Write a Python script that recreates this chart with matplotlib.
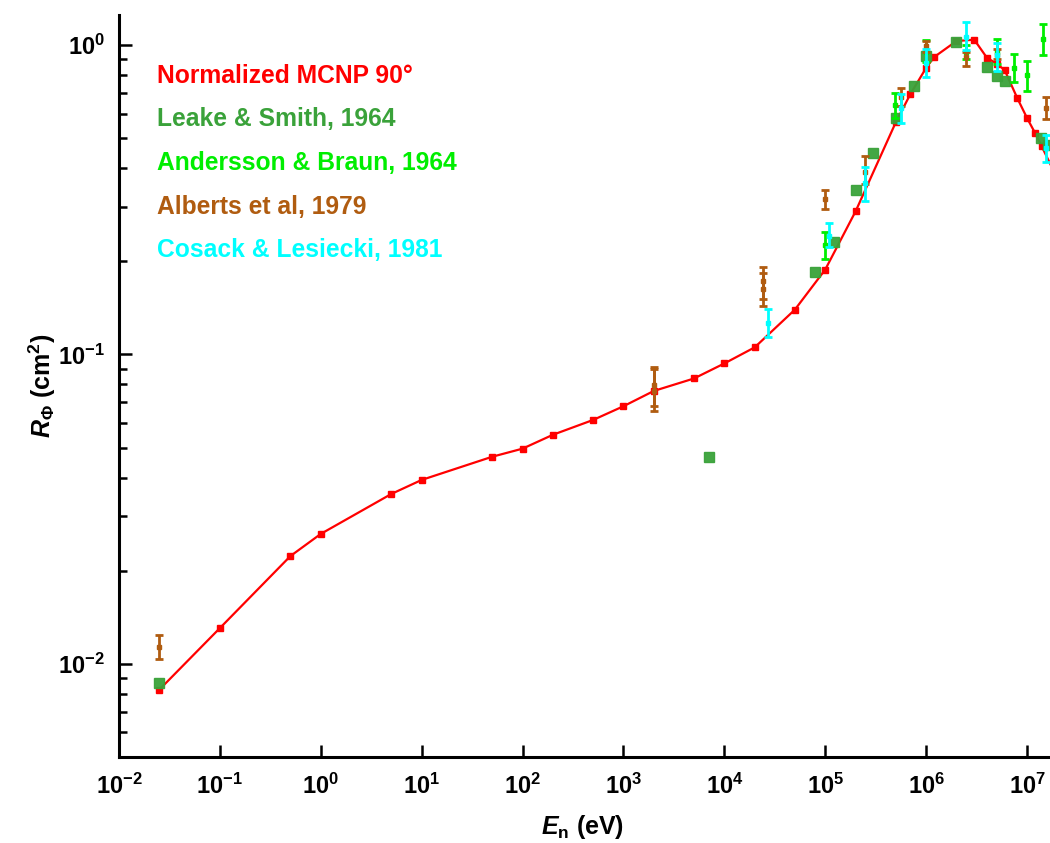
import numpy as np
import matplotlib
matplotlib.use('Agg')
import matplotlib.pyplot as plt
from matplotlib.ticker import FixedLocator, FuncFormatter, NullLocator, NullFormatter

plt.rcParams['font.family'] = ['Liberation Sans', 'DejaVu Sans']
plt.rcParams['font.weight'] = 'bold'
plt.rcParams['mathtext.fontset'] = 'custom'
plt.rcParams['mathtext.rm'] = 'Liberation Sans:bold'
plt.rcParams['mathtext.bf'] = 'Liberation Sans:bold'
plt.rcParams['mathtext.it'] = 'Liberation Sans:bold:italic'

# Normalized MCNP 90 deg (line)
mcnp_e = [0.025, 0.1, 0.5, 1, 5, 10, 50, 100, 200, 500, 1e3, 2e3, 5e3, 1e4, 2e4, 5e4,
          1e5, 2e5, 5e5, 7e5, 1e6, 1.2e6, 2e6, 3e6, 4e6, 5e6, 6e6, 8e6, 1e7, 1.2e7, 1.4e7, 2e7]
mcnp_r = [0.00824, 0.01305, 0.0223, 0.0263, 0.0354, 0.0393, 0.0467, 0.0496, 0.055, 0.0614,
          0.068, 0.0762, 0.0836, 0.0935, 0.1054, 0.1395, 0.188, 0.29, 0.562, 0.695, 0.843,
          0.914, 1.03, 1.04, 0.91, 0.87, 0.83, 0.674, 0.581, 0.52, 0.47, 0.37]

# Leake & Smith, 1964
leake_e = [0.025, 7000, 8e4, 1.22e5, 2e5, 3e5, 5e5, 7.5e5, 1e6, 2e6, 4e6, 5e6, 6e6, 1.37e7, 1.6e7]
leake_r = [0.00869, 0.0467, 0.185, 0.23, 0.341, 0.448, 0.581, 0.737, 0.92, 1.02, 0.85,
           0.794, 0.765, 0.50, 0.475]

# Andersson & Braun, 1964
andersson_e = [1e5, 4.9e5, 1e6, 2.5e6, 5e6, 7.5e6, 1e7, 1.45e7]
andersson_r = [0.226, 0.64, 0.95, 0.95, 0.95, 0.843, 0.80, 1.045]
andersson_lo = [0.203, 0.58, 0.88, 0.90, 0.87, 0.76, 0.71, 0.93]
andersson_hi = [0.249, 0.70, 1.04, 1.0, 1.045, 0.935, 0.887, 1.17]

# Alberts et al, 1979
alberts_e = [0.025, 2000, 2000, 2.4e4, 2.4e4, 1e5, 2.5e5, 5.7e5, 1e6, 2.5e6, 5e6, 1.55e7]
alberts_r = [0.01135, 0.0794, 0.0762, 0.173, 0.163, 0.317, 0.39, 0.68, 0.99, 0.915, 0.93, 0.626]
alberts_lo = [0.0104, 0.0683, 0.0655, 0.151, 0.143, 0.295, 0.355, 0.635, 0.95, 0.857, 0.90, 0.576]
alberts_hi = [0.0124, 0.0914, 0.0894, 0.192, 0.183, 0.339, 0.438, 0.728, 1.03, 0.951, 0.97, 0.68]

# Cosack & Lesiecki, 1981
cosack_e = [2.7e4, 1.1e5, 2.5e5, 5.7e5, 1e6, 2.5e6, 5e6, 1.54e7]
cosack_r = [0.126, 0.242, 0.358, 0.626, 0.875, 1.06, 0.93, 0.465]
cosack_lo = [0.1135, 0.222, 0.313, 0.56, 0.789, 0.963, 0.824, 0.42]
cosack_hi = [0.14, 0.265, 0.403, 0.695, 0.97, 1.19, 1.015, 0.51]

x_ticks = [1e-2, 1e-1, 1e0, 1e1, 1e2, 1e3, 1e4, 1e5, 1e6, 1e7]
y_ticks = [1e-2, 1e-1, 1e0]
y_minor = [5e-3, 6e-3, 7e-3, 8e-3, 9e-3] + [k * 1e-2 for k in range(2, 10)] + \
          [k * 1e-1 for k in range(2, 10)]

labels = ['Normalized MCNP 90°', 'Leake & Smith, 1964', 'Andersson & Braun, 1964',
          'Alberts et al, 1979', 'Cosack & Lesiecki, 1981']
colors = ['#ff0000', '#3aa23a', '#00ee00', '#b05c10', '#00ffff']


def yerr(r, lo, hi):
    r = np.array(r)
    return [r - np.array(lo), np.array(hi) - r]


fig = plt.figure(figsize=(10.5, 8.43), dpi=100)
ax = fig.add_axes([119 / 1050, 1 - 757 / 843, 1 - 119 / 1050, (757 - 15) / 843])

ax.plot(mcnp_e, mcnp_r, '-s', color=colors[0], lw=1.6, ms=4.5, zorder=2)
ax.plot(leake_e, leake_r, 's', color=colors[1], ms=7.5, alpha=0.95, zorder=3, ls='none')

ebkw = dict(fmt='s', ms=3.5, elinewidth=2, capsize=3, capthick=2)
ax.errorbar(andersson_e, andersson_r, yerr=yerr(andersson_r, andersson_lo, andersson_hi),
            color=colors[2], zorder=4, **ebkw)
ax.errorbar(alberts_e, alberts_r, yerr=yerr(alberts_r, alberts_lo, alberts_hi),
            color=colors[3], zorder=5, **ebkw)
ax.errorbar(cosack_e, cosack_r, yerr=yerr(cosack_r, cosack_lo, cosack_hi),
            color=colors[4], zorder=6, **ebkw)

ax.set_xscale('log')
ax.set_yscale('log')
ax.set_xlim(1e-2, 1.69e7)
ax.set_ylim(0.005, 1.25)

ax.spines['top'].set_visible(False)
ax.spines['right'].set_visible(False)
ax.spines['left'].set_linewidth(2.2)
ax.spines['bottom'].set_linewidth(2.2)

ax.xaxis.set_major_locator(FixedLocator(x_ticks))
ax.xaxis.set_minor_locator(NullLocator())
ax.yaxis.set_major_locator(FixedLocator(y_ticks))
ax.yaxis.set_minor_locator(FixedLocator(y_minor))
ax.xaxis.set_minor_formatter(NullFormatter())
ax.yaxis.set_minor_formatter(NullFormatter())

fmt = FuncFormatter(lambda v, p: r'$\mathbf{10^{%d}}$' % int(round(np.log10(v))))
ax.xaxis.set_major_formatter(fmt)
ax.yaxis.set_major_formatter(fmt)

ax.tick_params(which='both', direction='in', width=1.8, labelsize=17)
ax.tick_params(which='major', length=9)
ax.tick_params(which='minor', length=5.5)
ax.tick_params(axis='x', pad=12)
ax.tick_params(axis='y', pad=10)

ax.set_xlabel(r'$\mathit{E}_\mathbf{n}$ (eV)', fontsize=18, fontweight='bold')
ax.set_ylabel(r'$\mathit{R}_{\mathbf{\Phi}}$ (cm$^\mathbf{2}$)', fontsize=18, fontweight='bold')
ax.xaxis.set_label_coords(0.498, -0.076)
ax.yaxis.set_label_coords(-0.066, 0.5)

for i, (lab, col) in enumerate(zip(labels, colors)):
    fig.text(157 / 1050, 1 - (83 + 43.5 * i) / 843, lab, color=col, fontsize=17.7,
             fontweight='bold', va='baseline', ha='left')

fig.savefig('out.png', dpi=100)
